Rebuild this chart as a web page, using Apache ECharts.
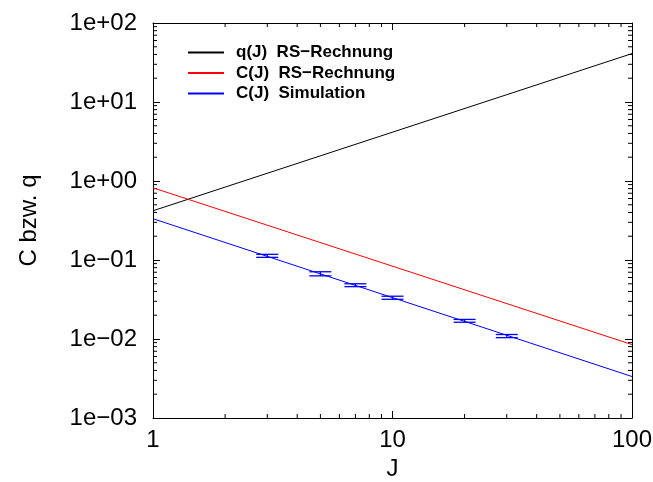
<!DOCTYPE html>
<html>
<head>
<meta charset="utf-8">
<script src="https://cdn.jsdelivr.net/npm/echarts@6/dist/echarts.min.js"></script>
<style>
  html, body { margin: 0; padding: 0; background: #fff; }
  #chart { width: 653px; height: 482px; }
</style>
</head>
<body>
<div id="chart"></div>
<script>
// Axis ranges (log-log)
const jRange = [1, 100];
const cRange = [0.001, 100];
const xTickValues = [1, 10, 100];
const yTickValues = [0.001, 0.01, 0.1, 1, 10, 100];

// Series names
const seriesNames = ['q(J)  RS\u2212Rechnung', 'C(J)  RS\u2212Rechnung', 'C(J)  Simulation'];

// Power-law curves: value at J = 1 and J = 100
const qJ = [1, 100];
const qValues = [0.42, 41];
const cRsJ = [1, 100];
const cRsValues = [0.82, 0.0085];
const cSimJ = [1, 100];
const cSimValues = [0.333, 0.00335];

// Simulation points with error bars
const simJ = [3, 5, 7, 10, 20, 30];
const simC = [0.113, 0.067, 0.048, 0.0333, 0.0170, 0.0109];
const simLow = [0.108, 0.063, 0.046, 0.0318, 0.0163, 0.0104];
const simHigh = [0.118, 0.071, 0.050, 0.0348, 0.0177, 0.0114];

const pairs = (xs, ys) => xs.map((x, i) => [x, ys[i]]);

// Minor tick positions (2..9 within every decade)
function minorTicks(lo, hi) {
  const out = [];
  for (let d = lo; d < hi - 1e-12; d *= 10) {
    for (let k = 2; k <= 9; k++) out.push(d * k);
  }
  return out;
}
const xMinor = minorTicks(jRange[0], jRange[1]);
const yMinor = minorTicks(cRange[0], cRange[1]);

const FONT = '"Liberation Sans", Helvetica, Arial, sans-serif';
const MAJOR = 7, MINOR = 4;

function fmtExp(v) {
  const e = Math.round(Math.log10(v));
  return '1e' + (e < 0 ? '\u2212' : '+') + String(Math.abs(e)).padStart(2, '0');
}

const chart = echarts.init(document.getElementById('chart'), null, { renderer: 'canvas' });

const commonAxis = {
  axisLine: { show: true, lineStyle: { color: '#000', width: 1 } },
  axisTick: { show: true, inside: true, length: MAJOR, lineStyle: { color: '#000', width: 1 } },
  splitLine: { show: false },
  logBase: 10
};

const option = {
  animation: false,
  backgroundColor: '#fff',
  grid: { left: 153, right: 21, top: 23, bottom: 64, containLabel: false, outerBoundsMode: 'none' },
  legend: {
    left: 187, top: 44, orient: 'vertical', padding: 0,
    itemWidth: 36, itemHeight: 14, itemGap: 3.5,
    data: seriesNames,
    itemStyle: { opacity: 0 },
    textStyle: { fontFamily: FONT, fontWeight: 'bold', fontSize: 17, color: '#000', padding: [0, 0, 0, 7] }
  },
  xAxis: [
    Object.assign({}, commonAxis, {
      type: 'log', min: jRange[0], max: jRange[1], position: 'bottom',
      name: 'J', nameLocation: 'middle', nameGap: 38,
      nameTextStyle: { fontFamily: FONT, fontSize: 24, color: '#000' },
      axisLabel: { show: true, margin: 10, fontFamily: FONT, fontSize: 24, color: '#000',
        formatter: v => String(Math.round(v)) }
    }),
    Object.assign({}, commonAxis, {
      type: 'log', min: jRange[0], max: jRange[1], position: 'top',
      axisLabel: { show: false }
    })
  ],
  yAxis: [
    Object.assign({}, commonAxis, {
      type: 'log', min: cRange[0], max: cRange[1], position: 'left',
      name: 'C bzw. q', nameLocation: 'middle', nameGap: 112, nameRotate: 90,
      nameTextStyle: { fontFamily: FONT, fontSize: 24, color: '#000' },
      axisLabel: { show: true, margin: 16, fontFamily: FONT, fontSize: 24, color: '#000',
        formatter: fmtExp }
    }),
    Object.assign({}, commonAxis, {
      type: 'log', min: cRange[0], max: cRange[1], position: 'right',
      axisLabel: { show: false }
    })
  ],
  series: [
    {
      name: seriesNames[0], type: 'line', data: pairs(qJ, qValues),
      symbol: 'none', lineStyle: { color: '#000', width: 1 }, itemStyle: { color: '#000' }
    },
    {
      name: seriesNames[1], type: 'line', data: pairs(cRsJ, cRsValues),
      symbol: 'none', lineStyle: { color: '#ff0000', width: 1 }, itemStyle: { color: '#ff0000' }
    },
    {
      name: seriesNames[2], type: 'line', data: pairs(cSimJ, cSimValues),
      symbol: 'none', lineStyle: { color: '#0000ff', width: 1 }, itemStyle: { color: '#0000ff' }
    },
    {
      // error bars of the simulation points
      name: 'errorbars', type: 'custom',
      data: simJ.map((j, i) => [j, simC[i], simLow[i], simHigh[i]]),
      renderItem: function (params, api) {
        const x = api.coord([api.value(0), api.value(1)])[0];
        const yLo = api.coord([api.value(0), api.value(2)])[1];
        const yHi = api.coord([api.value(0), api.value(3)])[1];
        const hw = 11;
        const st = { stroke: '#0000ff', lineWidth: 1.3 };
        return {
          type: 'group',
          children: [
            { type: 'line', shape: { x1: x, y1: yLo, x2: x, y2: yHi }, style: st },
            { type: 'line', shape: { x1: x - hw, y1: yLo, x2: x + hw, y2: yLo }, style: st },
            { type: 'line', shape: { x1: x - hw, y1: yHi, x2: x + hw, y2: yHi }, style: st }
          ]
        };
      },
      z: 3
    },
    {
      // minor ticks along the J axes (bottom and top)
      name: 'xminor', type: 'custom',
      data: xMinor.map(v => [v, cRange[0]]),
      renderItem: function (params, api) {
        const x = api.coord([api.value(0), cRange[0]])[0];
        const yb = api.coord([jRange[0], cRange[0]])[1];
        const yt = api.coord([jRange[0], cRange[1]])[1];
        const st = { stroke: '#000', lineWidth: 1 };
        return {
          type: 'group',
          children: [
            { type: 'line', shape: { x1: x, y1: yb, x2: x, y2: yb - MINOR }, style: st },
            { type: 'line', shape: { x1: x, y1: yt, x2: x, y2: yt + MINOR }, style: st }
          ]
        };
      },
      silent: true
    },
    {
      // minor ticks along the C axes (left and right)
      name: 'yminor', type: 'custom',
      data: yMinor.map(v => [jRange[0], v]),
      renderItem: function (params, api) {
        const y = api.coord([jRange[0], api.value(1)])[1];
        const xl = api.coord([jRange[0], cRange[0]])[0];
        const xr = api.coord([jRange[1], cRange[0]])[0];
        const st = { stroke: '#000', lineWidth: 1 };
        return {
          type: 'group',
          children: [
            { type: 'line', shape: { x1: xl, y1: y, x2: xl + MINOR, y2: y }, style: st },
            { type: 'line', shape: { x1: xr, y1: y, x2: xr - MINOR, y2: y }, style: st }
          ]
        };
      },
      silent: true
    }
  ]
};

chart.setOption(option);
</script>
</body>
</html>
